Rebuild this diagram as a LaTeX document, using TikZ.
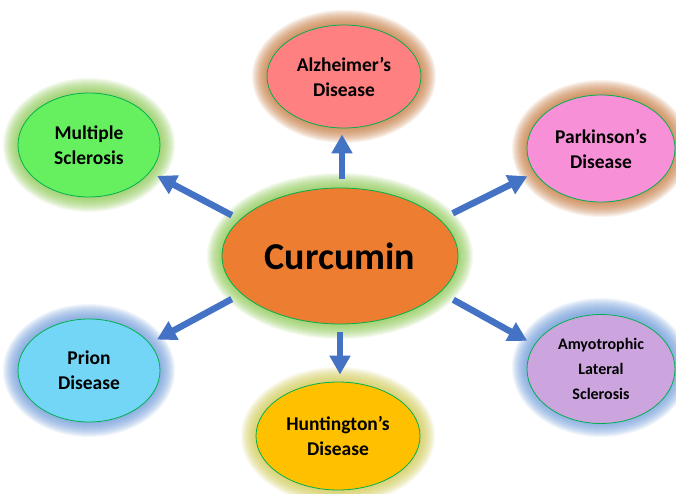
\documentclass[tikz,border=0pt]{standalone}
\usepackage{fontspec}
\setmainfont{Carlito}
\usetikzlibrary{shapes.geometric,arrows.meta}
\definecolor{olg}{HTML}{00B050}
\definecolor{arrblue}{HTML}{4472C4}
\definecolor{curfill}{HTML}{ED7D31}
\definecolor{alzfill}{HTML}{FF8080}
\definecolor{msfill}{HTML}{66F060}
\definecolor{parkfill}{HTML}{F890D8}
\definecolor{prionfill}{HTML}{74D6F6}
\definecolor{huntfill}{HTML}{FFC000}
\definecolor{alsfill}{HTML}{CCA4DE}
\definecolor{glowgreen}{HTML}{8CCB50}
\definecolor{glowbrown}{HTML}{C87B3E}
\definecolor{glowblue}{HTML}{6E9CDC}
\definecolor{glowolive}{HTML}{D2CC50}
\newcommand\myglow[5]{%
  \foreach \k in {1,...,15}{\fill[#5, opacity=0.085] (#1,#2) ellipse ({#3+\k} and {#4+\k});}}
\tikzset{
  dis/.style={ellipse, draw=olg, line width=0.8pt, inner sep=0pt, align=center,
    font=\bfseries\fontsize{19.5}{25}\selectfont},
  arr/.style={draw=arrblue, line width=6.5pt, -{Triangle[width=20pt,length=19pt]}},
}
\begin{document}
\begin{tikzpicture}[x=1pt,y=1pt]
\useasboundingbox (0,0) rectangle (676,-494);
\fill[white] (0,0) rectangle (676,-494);
% glows
\myglow{340}{-256}{118}{68}{glowgreen}
\myglow{344}{-76.5}{77}{51.5}{glowbrown}
\myglow{89}{-145}{71}{52}{glowgreen}
\myglow{601}{-148.5}{74}{53.5}{glowbrown}
\myglow{89}{-370.5}{71}{51.5}{glowblue}
\myglow{338}{-436}{82}{54}{glowolive}
\myglow{601}{-367.5}{74}{54.5}{glowblue}
% nodes
\node[dis, fill=curfill, minimum width=236pt, minimum height=136pt,
  font=\bfseries\fontsize{38}{40}\selectfont] (cur) at (340,-256) {Curcumin};
\node[dis, fill=alzfill, minimum width=154pt, minimum height=103pt] (alz) at (344,-76.5) {Alzheimer’s\\Disease};
\node[dis, fill=msfill, minimum width=142pt, minimum height=104pt] (ms) at (89,-145) {Multiple\\Sclerosis};
\node[dis, fill=parkfill, minimum width=148pt, minimum height=107pt] (park) at (601,-148.5) {Parkinson’s\\Disease};
\node[dis, fill=prionfill, minimum width=142pt, minimum height=103pt] (prion) at (89,-370.5) {Prion\\Disease};
\node[dis, fill=huntfill, minimum width=164pt, minimum height=108pt] (hunt) at (338,-436) {Huntington’s\\Disease};
\node[dis, fill=alsfill, minimum width=148pt, minimum height=109pt,
  font=\bfseries\fontsize{16}{25}\selectfont] (als) at (601,-369) {Amyotrophic\\Lateral\\Sclerosis};
% arrows
\draw[arr, shorten <=9pt, shorten >=6pt] ([xshift=2pt]cur.north) -- ([xshift=2pt]cur.north |- alz.south);
\draw[arr, shorten <=8pt, shorten >=7pt] (cur.south) -- (cur.south |- hunt.north);
\draw[arr, shorten <=9pt, shorten >=8pt] (cur.160) -- (ms.-24);
\draw[arr, shorten <=11pt, shorten >=8pt] (cur.201) -- (prion.24);
\draw[arr, shorten <=14pt, shorten >=8pt] (cur.20) -- (park.200);
\draw[arr, shorten <=15pt, shorten >=8pt] (cur.-20) -- (als.160);
\end{tikzpicture}
\end{document}
